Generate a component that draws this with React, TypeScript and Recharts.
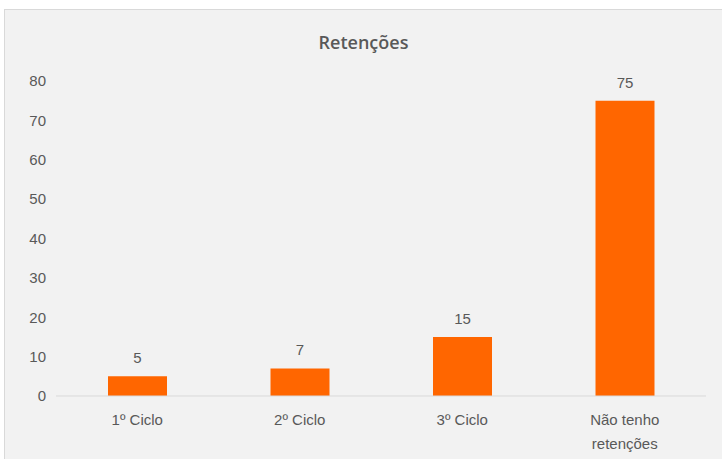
import React from 'react';
import { BarChart, Bar, XAxis, YAxis, LabelList } from 'recharts';

// Retenções por ciclo
const categories = ['1º Ciclo', '2º Ciclo', '3º Ciclo', 'Não tenho\nretenções'];
const values = [5, 7, 15, 75];
const yTicks = [0, 10, 20, 30, 40, 50, 60, 70, 80];

const data = categories.map((name, i) => ({ name, value: values[i] }));

const textColor = '#595959';
const font = '"Liberation Sans", Arial, sans-serif';

const CategoryTick = (props: any) => {
    const { x, y, payload } = props;
    const lines = String(payload.value).split('\n');
    return (
        <text x={x} y={y} textAnchor="middle" fill={textColor} fontSize={15} fontFamily={font}>
            {lines.map((line, i) => (
                <tspan key={i} x={x} dy={i === 0 ? 19 : 24}>{line}</tspan>
            ))}
        </text>
    );
};

export default function App() {
    return (
        <div style={{ position: 'absolute', left: 0, top: 0, width: 722, height: 459, background: '#fff' }}>
            <div
                style={{
                    position: 'absolute',
                    left: 4,
                    top: 9,
                    width: 718,
                    height: 450,
                    background: '#f2f2f2',
                    borderLeft: '1px solid #d9d9d9',
                    borderTop: '1px solid #d9d9d9',
                    boxSizing: 'border-box',
                }}
            >
                <div
                    style={{
                        position: 'absolute',
                        top: 20,
                        width: '100%',
                        textAlign: 'center',
                        fontFamily: '"Open Sans", sans-serif',
                        fontWeight: 600,
                        fontSize: 18,
                        color: textColor,
                    }}
                >
                    Retenções
                </div>
                <BarChart
                    width={717}
                    height={449}
                    data={data}
                    margin={{ top: 71, right: 16, left: 0, bottom: 12 }}
                    barCategoryGap="32%"
                >
                    <XAxis
                        dataKey="name"
                        axisLine={{ stroke: '#d9d9d9' }}
                        tickLine={false}
                        tickSize={0}
                        tickMargin={10}
                        height={51}
                        interval={0}
                        tick={<CategoryTick />}
                    />
                    <YAxis
                        domain={[0, 80]}
                        ticks={yTicks}
                        width={51}
                        axisLine={false}
                        tickLine={false}
                        tickSize={0}
                        tickMargin={10}
                        tick={{ fill: textColor, fontSize: 15, fontFamily: font }}
                    />
                    <Bar dataKey="value" fill="#ff6600" isAnimationActive={false}>
                        <LabelList
                            dataKey="value"
                            position="top"
                            offset={13}
                            fill={textColor}
                            fontSize={15}
                            fontFamily={font}
                        />
                    </Bar>
                </BarChart>
            </div>
        </div>
    );
}
